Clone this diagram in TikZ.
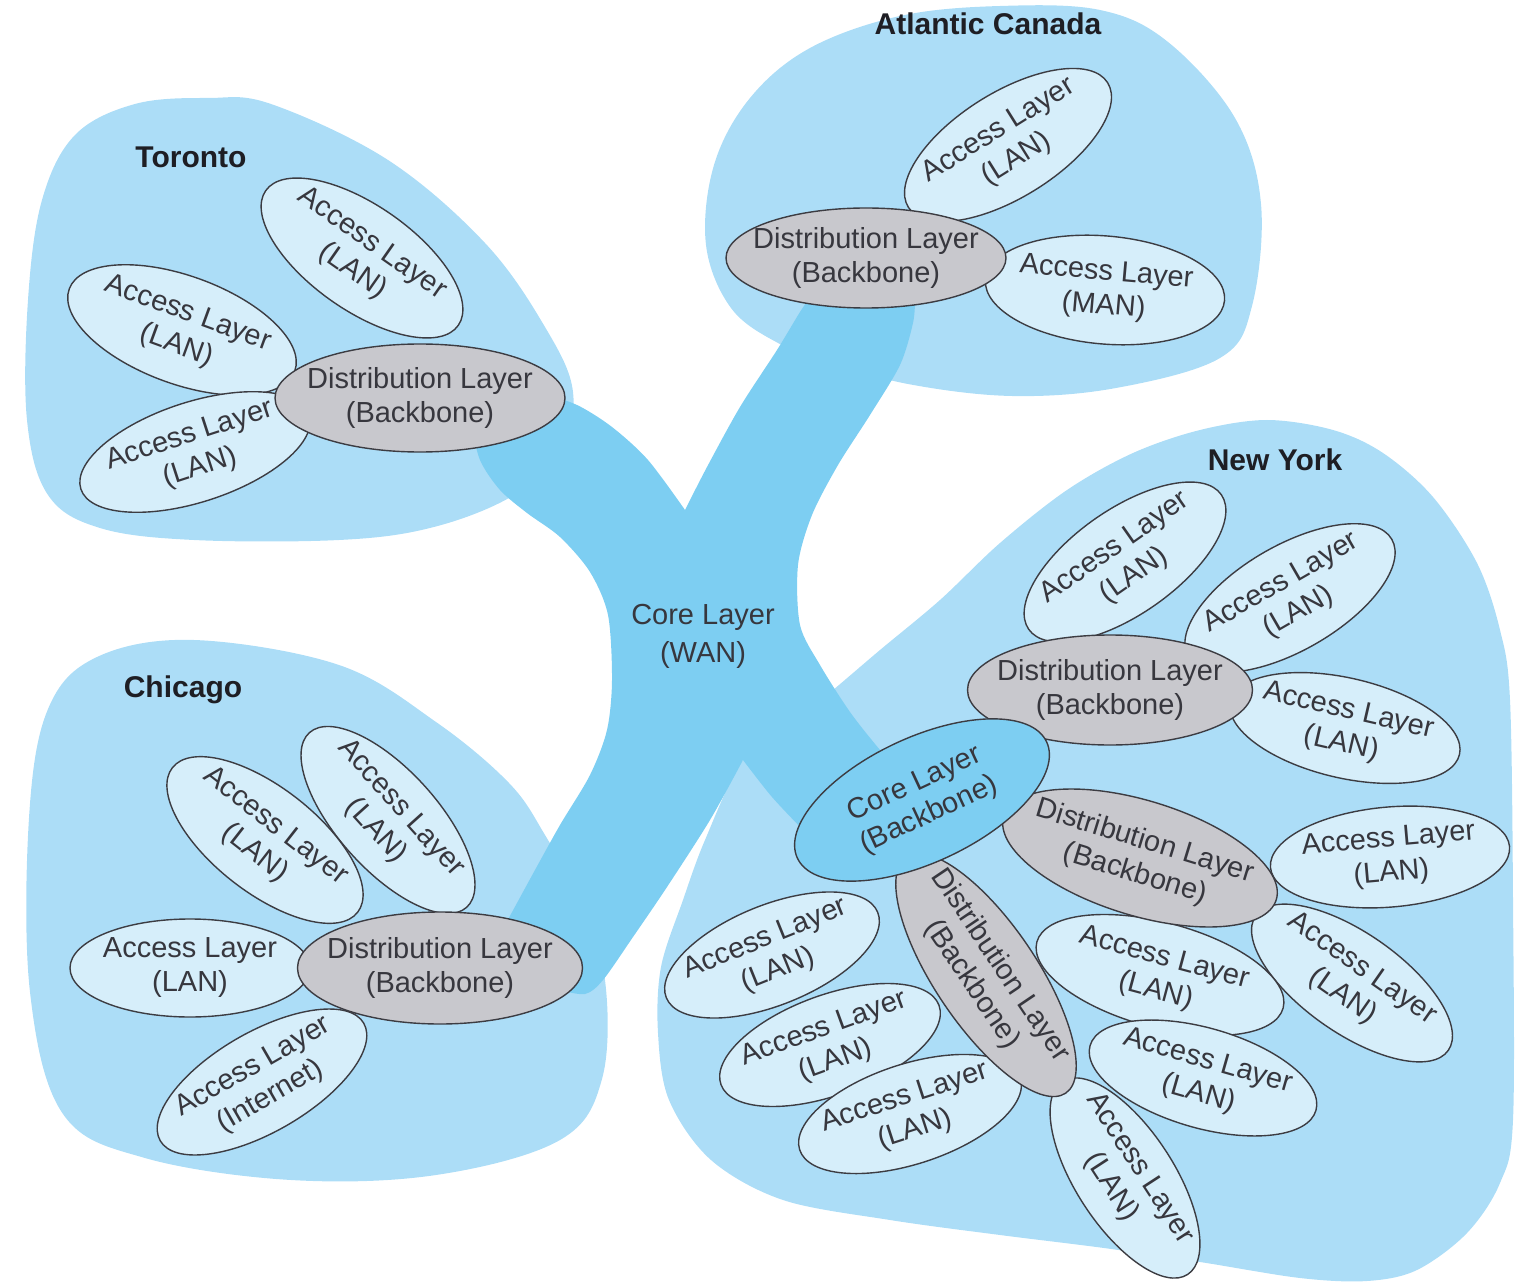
\documentclass[tikz,border=0pt]{standalone}
\usepackage{fontspec}
\setmainfont{Liberation Sans}
\usetikzlibrary{shapes.geometric}
\definecolor{regc}{RGB}{172,221,247}
\definecolor{bandc}{RGB}{125,206,242}
\definecolor{accc}{RGB}{214,238,250}
\definecolor{distc}{RGB}{200,200,205}
\definecolor{linec}{RGB}{60,60,66}
\definecolor{txtc}{RGB}{55,55,62}
\definecolor{cityc}{RGB}{30,30,36}
\tikzset{
  shp/.style={ellipse, inner sep=0pt, outer sep=0pt, draw=linec, line width=0.7pt},
  acc/.style={shp, fill=accc},
  dist/.style={shp, fill=distc},
  corebb/.style={shp, fill=bandc},
  lbl/.style={align=center, inner sep=0pt, text=txtc, font=\fontsize{14.5}{17}\selectfont},
  city/.style={inner sep=0pt, text=cityc, font=\fontsize{15}{17}\selectfont\bfseries},
}
\newcommand\mkel[7]{%
  \node[#2, rotate=#6, minimum width=#4*0.5pt, minimum height=#5*0.5pt] (#1) at (#3) {};
  \node[lbl, rotate=#6] (#1t) at (#1) {#7};}
\begin{document}
\begin{tikzpicture}[x=0.5pt,y=-0.5pt]
\useasboundingbox (0,0) rectangle (1515,1283);
% ---------- regions ----------
\fill[regc] plot[smooth cycle, tension=0.6] coordinates {
 (208,98) (271,104) (388,160) (485,243) (545,327) (573,392) (560,455) (509,498)
 (430,528) (339,540) (194,540) (100,528) (48,495) (27,420) (28,300) (42,200) (75,135) (135,104)};
\fill[regc] plot[smooth cycle, tension=0.6] coordinates {
 (1000,6) (1100,10) (1168,42) (1235,118) (1261,204) (1252,306) (1220,358) (1116,388)
 (1012,396) (908,384) (830,362) (778,343) (731,308) (706,245) (714,165) (750,98) (810,48) (900,16)};
\fill[regc] plot[smooth cycle, tension=0.6] coordinates {
 (194,640) (339,665) (436,722) (509,783) (545,835) (580,900) (605,980) (602,1079)
 (560,1140) (436,1175) (291,1180) (145,1158) (63,1114) (30,992) (29,818) (48,709) (97,657)};
\fill[regc] plot[smooth cycle, tension=0.55] coordinates {
 (743,760) (705,840) (683,900) (661,967) (658,1033) (669,1100) (711,1160) (783,1200)
 (890,1220) (1000,1235) (1104,1248) (1200,1262) (1300,1278) (1367,1281) (1417,1270)
 (1467,1233) (1500,1183) (1513,1120) (1513,900) (1510,700) (1500,630) (1477,563)
 (1433,497) (1383,453) (1333,430) (1267,420) (1200,430) (1133,453) (1067,490)
 (1000,543) (940,600) (880,650) (833,690) (790,725)};
% ---------- core WAN band ----------
\fill[bandc]
 plot[smooth] coordinates {(470,420) (510,400) (545,396) (577,405) (612,427) (648,460) (685,510)}
 -- plot[smooth] coordinates {(685,510) (707,467) (740,407) (777,350) (800,312) (815,290)}
 -- (860,285)
 -- plot[smooth] coordinates {(915,300) (913,323) (900,365) (870,415) (838,465) (812,515) (798,565) (800,625) (820,665) (850,712) (880,750) (905,778)}
 -- (870,830)
 -- plot[smooth] coordinates {(805,832) (772,797) (743,760)}
 -- plot[smooth] coordinates {(743,760) (710,820) (667,887) (633,937) (603,980) (585,994) (560,990)}
 -- (520,955)
 -- plot[smooth] coordinates {(505,925) (517,903) (535,870) (560,825) (590,775) (607,730) (612,680) (608,615) (590,572) (560,537) (527,513) (500,490) (480,460) (470,420)}
 -- cycle;
\node[lbl, font=\fontsize{14.5}{19}\selectfont] (wan) at (703,636) {Core Layer\\(WAN)};
% ---------- city labels ----------
\node[city] (toronto) at (191,157) {Toronto};
\node[city] (atlantic) at (988,24) {Atlantic Canada};
\node[city] (chicago) at (183,690) {Chicago};
\node[city] (newyork) at (1275,460) {New York};
% ---------- Toronto ----------
\mkel{t1}{acc}{362,258}{235}{105}{-35}{Access Layer\\(LAN)}
\mkel{t2}{acc}{182,330}{240}{108}{-20}{Access Layer\\(LAN)}
\mkel{t3}{acc}{195,452}{240}{100}{18}{Access Layer\\(LAN)}
\mkel{td}{dist}{420,398}{290}{108}{0}{Distribution Layer\\(Backbone)}
% ---------- Atlantic Canada ----------
\mkel{a1}{acc}{1008,145}{235}{105}{32}{Access Layer\\(LAN)}
\mkel{a2}{acc}{1105,290}{240}{108}{-5}{Access Layer\\(MAN)}
\mkel{ad}{dist}{866,258}{280}{100}{0}{Distribution Layer\\(Backbone)}
% ---------- Chicago ----------
\mkel{c1}{acc}{388,820}{235}{100}{-48}{Access Layer\\(LAN)}
\mkel{c2}{acc}{265,840}{235}{105}{-38}{Access Layer\\(LAN)}
\mkel{c3}{acc}{190,968}{240}{98}{0}{Access Layer\\(LAN)}
\mkel{c4}{acc}{262,1082}{235}{100}{30}{Access Layer\\(Internet)}
\mkel{cd}{dist}{440,968}{285}{112}{0}{Distribution Layer\\(Backbone)}
% ---------- New York ----------
\mkel{n1}{acc}{1125,562}{235}{105}{35}{Access Layer\\(LAN)}
\mkel{n2}{acc}{1290,598}{235}{105}{30}{Access Layer\\(LAN)}
\mkel{n3}{acc}{1345,728}{235}{100}{-13}{Access Layer\\(LAN)}
\mkel{n4}{acc}{1390,857}{240}{100}{5}{Access Layer\\(LAN)}
\mkel{n5}{acc}{1352,983}{235}{100}{-35}{Access Layer\\(LAN)}
\mkel{n10}{acc}{1160,975}{255}{105}{-15}{Access Layer\\(LAN)}
\mkel{n11}{acc}{1203,1078}{235}{100}{-16}{Access Layer\\(LAN)}
\mkel{n6}{acc}{772,955}{228}{100}{22}{Access Layer\\(LAN)}
\mkel{n7}{acc}{830,1045}{232}{100}{20}{Access Layer\\(LAN)}
\mkel{n8}{acc}{910,1114}{232}{100}{18}{Access Layer\\(LAN)}
\mkel{n9}{acc}{1125,1178}{230}{98}{-57}{Access Layer\\(LAN)}
\mkel{nd1}{dist}{1110,690}{285}{110}{0}{Distribution Layer\\(Backbone)}
\mkel{nd2}{dist}{1140,858}{285}{115}{-17}{Distribution Layer\\(Backbone)}
\mkel{nd3}{dist}{986,975}{285}{102}{-56}{Distribution Layer\\(Backbone)}
\mkel{nc}{corebb}{922,800}{275}{125}{25}{Core Layer\\(Backbone)}
\end{tikzpicture}
\end{document}
